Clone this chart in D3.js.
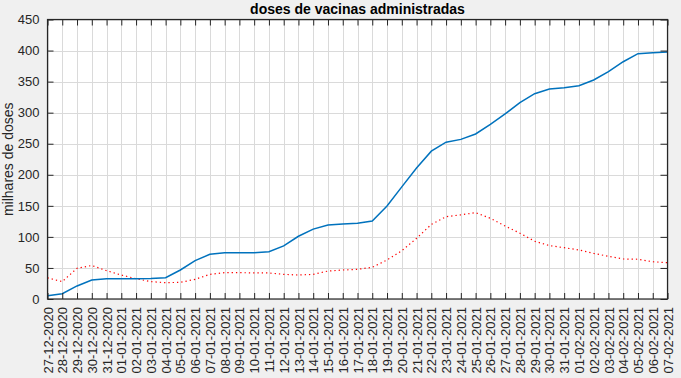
<!DOCTYPE html>
<html>
<head>
<meta charset="utf-8">
<script src="https://cdn.jsdelivr.net/npm/d3@7"></script>
<style>
  body { margin: 0; background: #f0f0f0; }
  svg { display: block; font-family: "Liberation Sans", Arial, sans-serif; }
</style>
</head>
<body>
<div id="chart"></div>
<script>
// Datas (eixo x)
const dates = [
  "27-12-2020", "28-12-2020", "29-12-2020", "30-12-2020", "31-12-2020",
  "01-01-2021", "02-01-2021", "03-01-2021", "04-01-2021", "05-01-2021",
  "06-01-2021", "07-01-2021", "08-01-2021", "09-01-2021", "10-01-2021",
  "11-01-2021", "12-01-2021", "13-01-2021", "14-01-2021", "15-01-2021",
  "16-01-2021", "17-01-2021", "18-01-2021", "19-01-2021", "20-01-2021",
  "21-01-2021", "22-01-2021", "23-01-2021", "24-01-2021", "25-01-2021",
  "26-01-2021", "27-01-2021", "28-01-2021", "29-01-2021", "30-01-2021",
  "31-01-2021", "01-02-2021", "02-02-2021", "03-02-2021", "04-02-2021",
  "05-02-2021", "06-02-2021", "07-02-2021"
];

// Série azul (linha contínua), milhares de doses
const totalDoses = [
  5.4, 8.6, 21, 30.6, 32.7,
  32.7, 32.7, 33, 34.3, 46.7, 61.7, 72, 74.6, 74.6, 74.6,
  76, 85.5, 101, 112.5, 119, 120.7, 122, 125.6, 149.7, 180.5,
  211, 238, 252.5, 257, 265.7, 281, 298, 316, 330.5, 338, 340,
  343.4, 352.6, 366, 382, 395, 396.5, 397.5
];

// Série vermelha (pontilhada)
const dailyDoses = [
  34, 28, 49.4, 54, 45.6,
  38.6, 32.7, 28, 26.3, 26.8, 31.7, 39.7, 42.4, 42.4, 42,
  41.9, 39.7, 38.6, 39.7, 45, 46.7, 47.8, 51, 62.8, 77.8,
  97.7, 120, 132.5, 135.5, 139, 130, 117.5, 106, 93, 86, 82.6,
  79, 73.5, 68.7, 64.4, 64, 60, 58.5
];

const yTicks = [0, 50, 100, 150, 200, 250, 300, 350, 400, 450];

const width = 681, height = 378;
const margin = { top: 19.5, right: 13.5, bottom: 79, left: 47.5 };
const ink = "#262626";

const svg = d3.select("#chart").append("svg")
  .attr("width", width)
  .attr("height", height);

const x = d3.scalePoint()
  .domain(dates)
  .range([margin.left, width - margin.right]);

const y = d3.scaleLinear()
  .domain([0, 450])
  .range([height - margin.bottom, margin.top]);

// fundo branco da área do gráfico
svg.append("rect")
  .attr("x", margin.left).attr("y", margin.top)
  .attr("width", width - margin.left - margin.right)
  .attr("height", height - margin.top - margin.bottom)
  .attr("fill", "#fff");

// grelha
const grid = svg.append("g").attr("stroke", "#dadada").attr("stroke-width", 1);
grid.selectAll("line.v")
  .data(dates)
  .join("line")
  .attr("class", "v")
  .attr("x1", d => Math.round(x(d)) + 0.5).attr("x2", d => Math.round(x(d)) + 0.5)
  .attr("y1", margin.top).attr("y2", height - margin.bottom);
grid.selectAll("line.h")
  .data(yTicks)
  .join("line")
  .attr("class", "h")
  .attr("x1", margin.left).attr("x2", width - margin.right)
  .attr("y1", d => Math.round(y(d)) + 0.5).attr("y2", d => Math.round(y(d)) + 0.5);

// linhas
const line = d3.line()
  .x((d, i) => x(dates[i]))
  .y(d => y(d));

svg.append("path")
  .datum(dailyDoses)
  .attr("fill", "none")
  .attr("stroke", "#ff0000")
  .attr("stroke-width", 1.2)
  .attr("stroke-dasharray", "1.3,3")
  .attr("d", line);

svg.append("path")
  .datum(totalDoses)
  .attr("fill", "none")
  .attr("stroke", "#0072bd")
  .attr("stroke-width", 1.5)
  .attr("d", line);

// eixos (ticks para dentro, estilo MATLAB)
const styleAxis = g => {
  g.select(".domain").remove();
  g.selectAll(".tick line").attr("stroke", ink);
  g.selectAll(".tick text").attr("fill", ink).style("font-size", "13px");
};

const xBottom = svg.append("g")
  .attr("transform", `translate(0,${height - margin.bottom})`)
  .call(d3.axisBottom(x).tickSizeInner(-6).tickSizeOuter(0).tickPadding(8))
  .call(styleAxis);
xBottom.selectAll(".tick text")
  .attr("transform", "rotate(-90)")
  .attr("x", -8).attr("y", 0).attr("dy", "0.35em")
  .style("text-anchor", "end");

svg.append("g")
  .attr("transform", `translate(0,${margin.top})`)
  .call(d3.axisTop(x).tickSizeInner(-6).tickSizeOuter(0).tickFormat(""))
  .call(styleAxis);

svg.append("g")
  .attr("transform", `translate(${margin.left},0)`)
  .call(d3.axisLeft(y).tickValues(yTicks).tickSizeInner(-6).tickSizeOuter(0).tickPadding(8))
  .call(styleAxis);

svg.append("g")
  .attr("transform", `translate(${width - margin.right},0)`)
  .call(d3.axisRight(y).tickValues(yTicks).tickSizeInner(-7).tickSizeOuter(0).tickFormat(""))
  .call(styleAxis);

// caixa
svg.append("rect")
  .attr("x", margin.left).attr("y", margin.top)
  .attr("width", width - margin.left - margin.right)
  .attr("height", height - margin.top - margin.bottom)
  .attr("fill", "none")
  .attr("stroke", ink)
  .attr("stroke-width", 1.2);

// título
svg.append("text")
  .attr("x", (margin.left + width - margin.right) / 2)
  .attr("y", 14)
  .attr("text-anchor", "middle")
  .style("font-size", "14px")
  .style("font-weight", "bold")
  .attr("fill", "#000")
  .text("doses de vacinas administradas");

// rótulo do eixo y
svg.append("text")
  .attr("transform", "rotate(-90)")
  .attr("x", -(margin.top + height - margin.bottom) / 2)
  .attr("y", 13)
  .attr("text-anchor", "middle")
  .style("font-size", "14px")
  .attr("fill", ink)
  .text("milhares de doses");
</script>
</body>
</html>
